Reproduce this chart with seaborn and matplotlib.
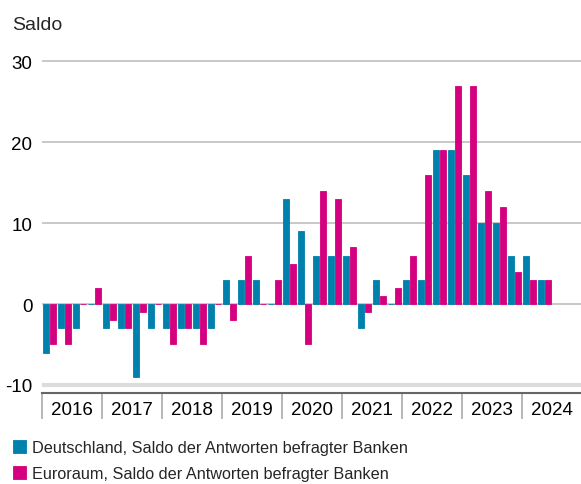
import matplotlib
matplotlib.use("Agg")
import matplotlib.pyplot as plt
import seaborn as sns
import pandas as pd
from matplotlib.ticker import FixedLocator

# Quarterly balances 2016 Q1 - 2024 Q2
years = [2016, 2017, 2018, 2019, 2020, 2021, 2022, 2023, 2024]
deutschland = [-6, -3, -3, 0,
               -3, -3, -9, -3,
               -3, -3, -3, -3,
               3, 3, 3, 0,
               13, 9, 6, 6,
               6, -3, 3, 0,
               3, 3, 19, 19,
               16, 10, 10, 6,
               6, 3]
euroraum = [-5, -5, 0, 2,
            -2, -3, -1, 0,
            -5, -3, -5, 0,
            -2, 6, 0, 3,
            5, -5, 14, 13,
            7, -1, 1, 2,
            6, 16, 19, 27,
            27, 14, 12, 4,
            3, 3]
label_de = "Deutschland, Saldo der Antworten befragter Banken"
label_ea = "Euroraum, Saldo der Antworten befragter Banken"

quarters = [f"{y} Q{q}" for y in years for q in range(1, 5)]
n = len(deutschland)
df = pd.DataFrame({
    "Quartal": quarters[:n] * 2,
    "Saldo": deutschland + euroraum,
    "Reihe": [label_de] * n + [label_ea] * n,
})

sns.set_theme(style="white")
plt.rcParams["font.family"] = ["Liberation Sans", "DejaVu Sans"]

blue = "#0080ac"
pink = "#d5007f"

fig = plt.figure(figsize=(5.81, 4.85), dpi=100)
ax = fig.add_axes([42 / 581, 1 - 394 / 485, 540 / 581, (394 - 60) / 485])

sns.barplot(data=df, x="Quartal", y="Saldo", hue="Reihe", order=quarters,
            hue_order=[label_de, label_ea], palette=[blue, pink],
            width=0.87, gap=0.12, ax=ax, zorder=3,
            linewidth=0.6, saturation=1)
for p in ax.patches:
    p.set_edgecolor(p.get_facecolor())

ax.set_xlim(-0.5, len(quarters) - 0.5)
ax.set_ylim(-11, 30.3)

# horizontal grid
for v in [0, 10, 20, 30]:
    ax.axhline(v, color="#c8c8c8", lw=1.4, zorder=1)
ax.axhline(-10, color="#dcdcdc", lw=3, zorder=1)

ax.set_yticks([-10, 0, 10, 20, 30])
ax.set_yticklabels(["-10", "0", "10", "20", "30"])
ax.tick_params(axis="y", length=0, pad=7, labelsize=13.5, colors="black")

# year labels centred under each year, separators at year boundaries
centers = [4 * i + 1.5 for i in range(len(years))]
ax.set_xticks(centers)
ax.set_xticklabels([str(y) for y in years])
ax.tick_params(axis="x", which="major", length=0, pad=6, labelsize=13.5,
               colors="black")
ax.xaxis.set_minor_locator(FixedLocator([4 * i - 0.5 for i in range(len(years) + 1)]))
ax.tick_params(axis="x", which="minor", length=19, width=1.2, color="#aaaaaa",
               bottom=True)

for s in ["top", "right", "left"]:
    ax.spines[s].set_visible(False)
ax.spines["bottom"].set_color("#666666")
ax.spines["bottom"].set_linewidth(1.5)
ax.set_xlabel("")
ax.set_ylabel("")

fig.text(12 / 581, 1 - 30 / 485, "Saldo", fontsize=14, va="baseline", ha="left")

handles, labels = ax.get_legend_handles_labels()
ax.get_legend().remove()
fig.legend(handles, labels, loc="upper left", bbox_to_anchor=(13 / 581, 1 - 441 / 485),
           frameon=False, prop={"size": 11.7},
           handlelength=0.8, handleheight=0.8,
           handletextpad=0.4, labelspacing=0.68, borderpad=0, borderaxespad=0)

fig.savefig("out.png", dpi=100)
